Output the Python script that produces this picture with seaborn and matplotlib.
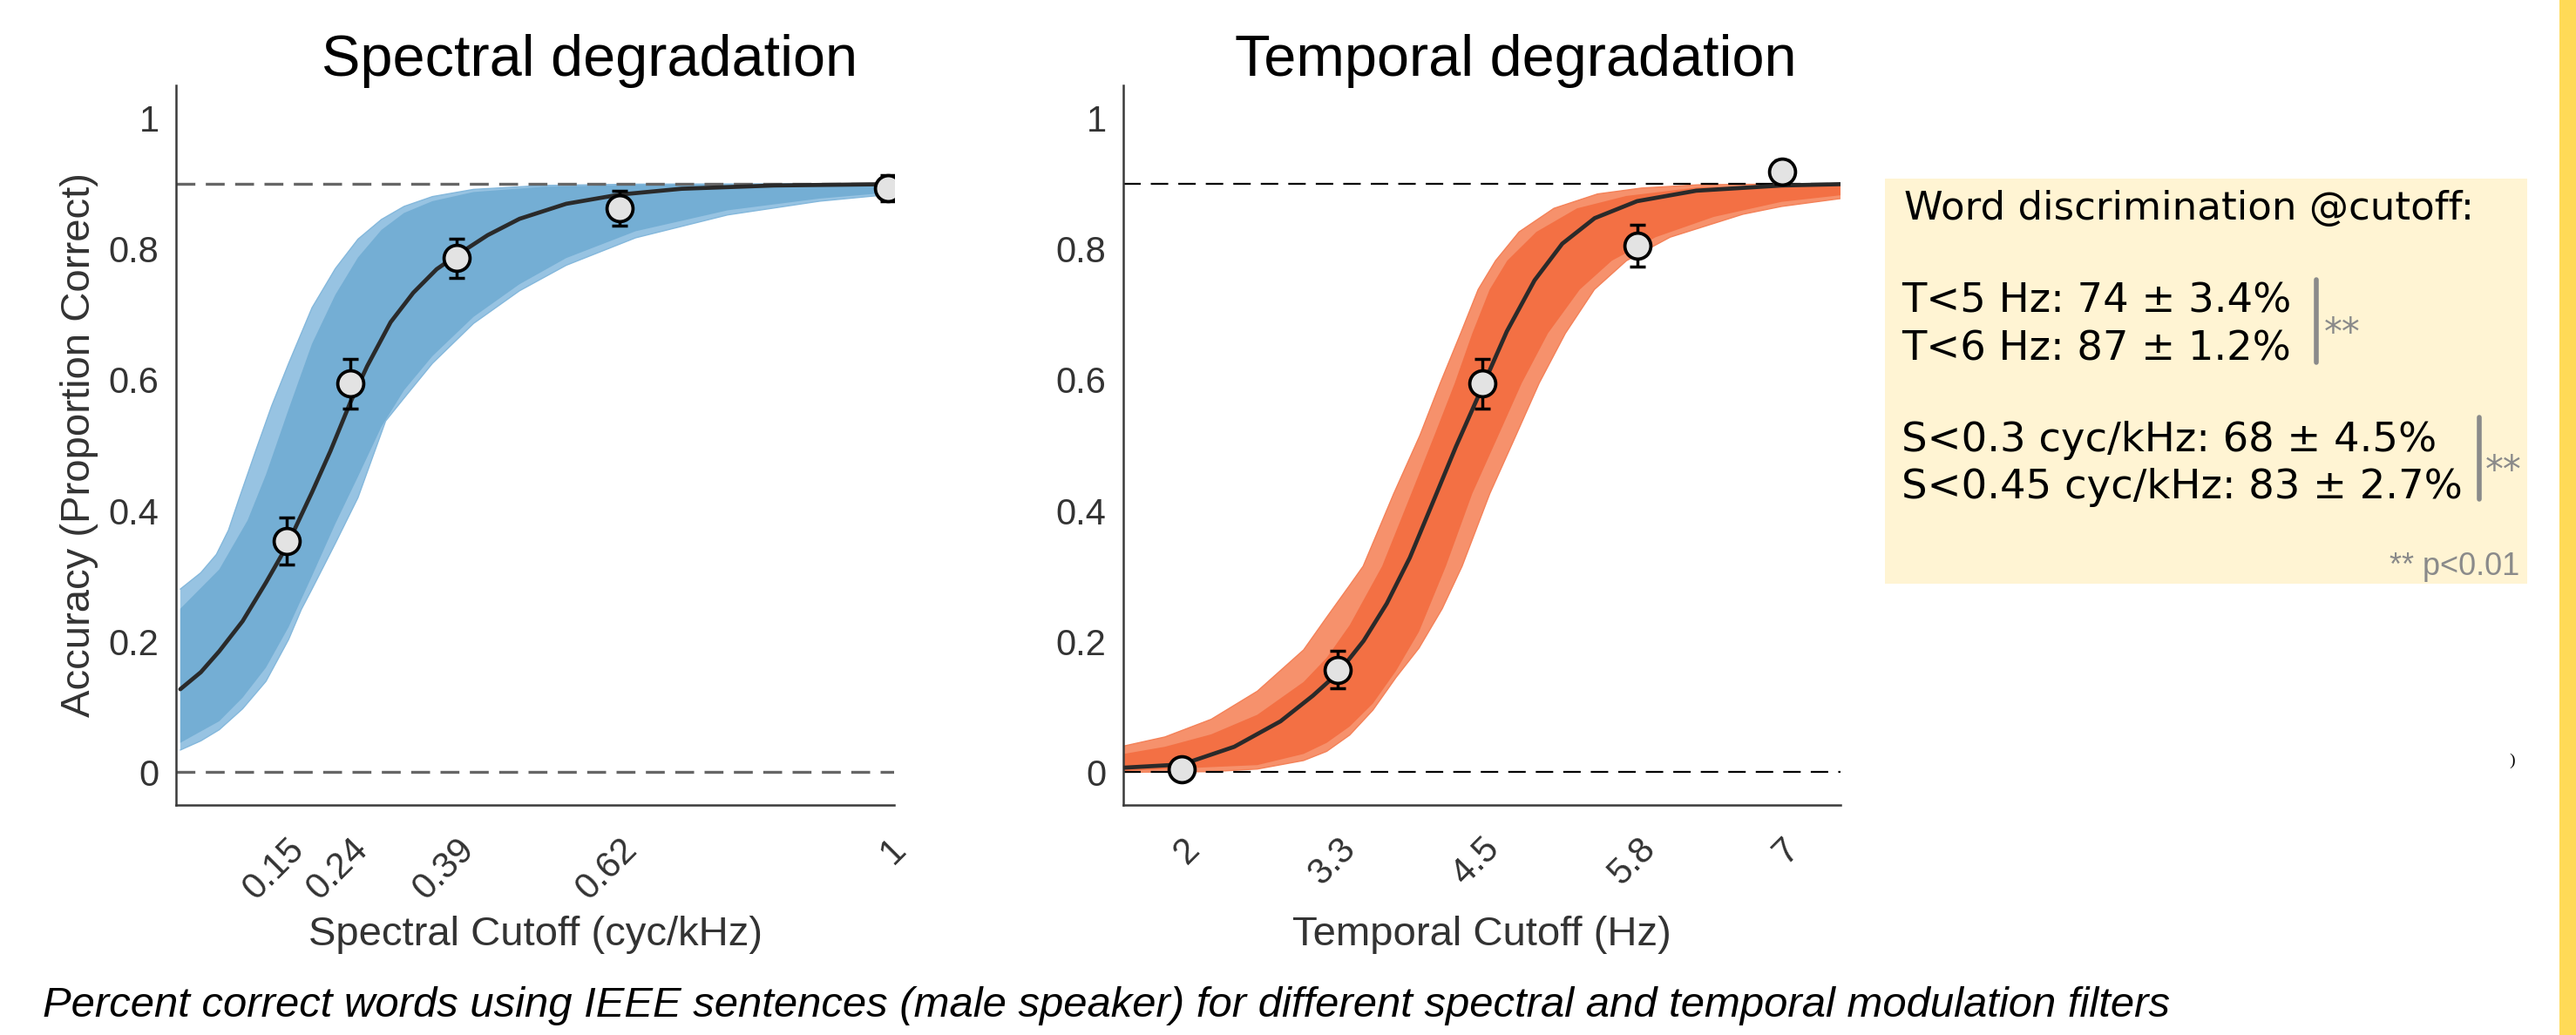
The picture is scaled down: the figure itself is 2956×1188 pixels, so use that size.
import matplotlib
matplotlib.use("Agg")
import matplotlib.pyplot as plt
from matplotlib.patches import Rectangle
from matplotlib.lines import Line2D
import numpy as np
import pandas as pd
import seaborn as sns

# ---------------- data ----------------
# Spectral degradation panel
spec_x = [0.15, 0.24, 0.39, 0.62, 1.0]
spec_y = [0.354, 0.594, 0.786, 0.862, 0.893]
spec_err = [0.036, 0.038, 0.030, 0.027, 0.020]
spec_ticks = [0.15, 0.24, 0.39, 0.62, 1.0]
spec_ticklabels = ["0.15", "0.24", "0.39", "0.62", "1"]

spec_fit_x = [0.0, 0.029, 0.055, 0.088, 0.121, 0.15, 0.186, 0.212, 0.24, 0.264,
              0.297, 0.329, 0.362, 0.39, 0.434, 0.479, 0.545, 0.62, 0.708, 0.838, 1.0]
spec_fit_y = [0.127, 0.153, 0.185, 0.231, 0.290, 0.345, 0.428, 0.491, 0.565, 0.621,
              0.688, 0.733, 0.769, 0.790, 0.821, 0.846, 0.869, 0.883, 0.892, 0.897, 0.899]

spec_outer_up_x = [0.0, 0.029, 0.051, 0.068, 0.082, 0.107, 0.129, 0.153, 0.186, 0.219,
                   0.251, 0.284, 0.316, 0.356, 0.414, 0.512, 0.643, 1.0]
spec_outer_up_y = [0.280, 0.305, 0.333, 0.370, 0.415, 0.493, 0.560, 0.625, 0.710, 0.770,
                   0.815, 0.845, 0.865, 0.880, 0.891, 0.897, 0.899, 0.900]
spec_inner_up_x = [0.0, 0.055, 0.095, 0.121, 0.153, 0.186, 0.219, 0.251, 0.284, 0.316,
                   0.356, 0.414, 0.512, 0.643, 1.0]
spec_inner_up_y = [0.250, 0.310, 0.385, 0.455, 0.555, 0.655, 0.730, 0.787, 0.829, 0.855,
                   0.873, 0.887, 0.895, 0.898, 0.899]
spec_outer_lo_x = [0.0, 0.029, 0.055, 0.088, 0.121, 0.153, 0.171, 0.186, 0.219, 0.251,
                   0.290, 0.316, 0.356, 0.414, 0.479, 0.545, 0.643, 0.773, 0.903, 1.0]
spec_outer_lo_y = [0.034, 0.048, 0.065, 0.097, 0.139, 0.203, 0.249, 0.280, 0.350, 0.420,
                   0.537, 0.572, 0.625, 0.686, 0.736, 0.775, 0.817, 0.852, 0.873, 0.883]
spec_inner_lo_x = [0.0, 0.055, 0.088, 0.121, 0.153, 0.186, 0.219, 0.251, 0.284, 0.316,
                   0.356, 0.414, 0.479, 0.545, 0.643, 0.773, 0.903, 1.0]
spec_inner_lo_y = [0.045, 0.078, 0.114, 0.160, 0.222, 0.300, 0.380, 0.452, 0.528, 0.584,
                   0.636, 0.696, 0.746, 0.786, 0.827, 0.859, 0.877, 0.886]

# Temporal degradation panel
temp_x = [2.0, 3.3, 4.5, 5.8, 7.0]
temp_y = [0.005, 0.157, 0.594, 0.805, 0.918]
temp_err = [0.005, 0.029, 0.038, 0.032, 0.018]
temp_ticks = [2.0, 3.3, 4.5, 5.8, 7.0]
temp_ticklabels = ["2", "3.3", "4.5", "5.8", "7"]

temp_fit_x = [1.511, 2.0, 2.435, 2.821, 3.09, 3.302, 3.514, 3.707, 3.899, 4.092,
              4.284, 4.504, 4.708, 4.939, 5.17, 5.44, 5.794, 6.287, 7.0, 7.49]
temp_fit_y = [0.007, 0.012, 0.039, 0.078, 0.117, 0.152, 0.201, 0.258, 0.328, 0.413,
              0.498, 0.589, 0.674, 0.752, 0.808, 0.847, 0.873, 0.889, 0.897, 0.899]

temp_outer_up_x = [1.511, 1.857, 2.243, 2.628, 3.013, 3.206, 3.398, 3.51, 3.765, 3.983,
                   4.153, 4.323, 4.469, 4.614, 4.81, 5.1, 5.464, 5.83, 6.3, 7.49]
temp_outer_up_y = [0.040, 0.054, 0.081, 0.124, 0.187, 0.237, 0.286, 0.315, 0.426, 0.515,
                   0.595, 0.671, 0.738, 0.782, 0.826, 0.862, 0.884, 0.893, 0.898, 0.900]
temp_inner_up_x = [1.511, 1.857, 2.243, 2.628, 3.013, 3.206, 3.398, 3.668, 3.911, 4.104,
                   4.274, 4.42, 4.565, 4.711, 4.954, 5.293, 5.705, 6.3, 7.49]
temp_inner_up_y = [0.028, 0.039, 0.058, 0.088, 0.138, 0.175, 0.225, 0.315, 0.426, 0.515,
                   0.595, 0.671, 0.738, 0.782, 0.826, 0.862, 0.881, 0.894, 0.899]
temp_outer_lo_x = [1.511, 2.243, 2.628, 3.013, 3.206, 3.398, 3.591, 3.784, 3.976, 4.169,
                   4.335, 4.566, 4.784, 4.978, 5.196, 5.438, 5.705, 6.07, 6.676, 7.0, 7.49]
temp_outer_lo_y = [0.000, 0.001, 0.005, 0.018, 0.032, 0.057, 0.095, 0.145, 0.190, 0.250,
                   0.315, 0.426, 0.515, 0.595, 0.671, 0.738, 0.782, 0.818, 0.853, 0.865, 0.877]
temp_inner_lo_x = [1.511, 2.628, 3.013, 3.206, 3.398, 3.591, 3.784, 3.976, 4.2, 4.42,
                   4.638, 4.833, 5.051, 5.317, 5.584, 5.95, 6.434, 7.0, 7.49]
temp_inner_lo_y = [0.002, 0.011, 0.028, 0.045, 0.070, 0.105, 0.155, 0.215, 0.315, 0.426,
                   0.515, 0.595, 0.671, 0.738, 0.782, 0.818, 0.849, 0.872, 0.882]

y_ticks = [0, 0.2, 0.4, 0.6, 0.8, 1]
y_ticklabels = ["0", "0.2", "0.4", "0.6", "0.8", "1"]
ref_levels = [0.0, 0.9]

titles = ["Spectral degradation", "Temporal degradation"]
xlabels = ["Spectral Cutoff (cyc/kHz)", "Temporal Cutoff (Hz)"]
ylabel = "Accuracy (Proportion Correct)"
caption = ("Percent correct words using IEEE sentences (male speaker) for different "
           "spectral and temporal modulation filters")
box_title = "Word discrimination @cutoff:"
box_lines_t = ["T<5 Hz: 74 \u00b1 3.4%", "T<6 Hz: 87 \u00b1 1.2%"]
box_lines_s = ["S<0.3 cyc/kHz: 68 \u00b1 4.5%", "S<0.45 cyc/kHz: 83 \u00b1 2.7%"]
sig_mark = "**"
sig_note = "** p<0.01"

# ---------------- style ----------------
sns.set_style("white")
plt.rcParams["font.family"] = ["Liberation Sans", "DejaVu Sans"]

W, H = 2956, 1188
fig = plt.figure(figsize=(W / 100, H / 100), dpi=100)


def fx(px):
    return px / W


def fy(py):
    return 1 - py / H


ax_l = fig.add_axes([fx(202), fy(924), fx(1026) - fx(202), fy(98) - fy(924)])
ax_r = fig.add_axes([fx(1289), fy(924), fx(2112) - fx(1289), fy(98) - fy(924)])

TXT = "#333333"
SPINE = "#3a3a3a"


def band(ax, ux, uy, lx, ly, color, edge):
    px = list(ux) + list(lx)[::-1]
    py = list(uy) + list(ly)[::-1]
    ax.fill(px, py, color=color, lw=0, zorder=1)
    if edge is not None:
        ax.plot(ux, uy, color=edge, lw=1.0, zorder=1.2)
        ax.plot(lx, ly, color=edge, lw=1.0, zorder=1.2)


def panel(ax, px, py, perr, fit_x, fit_y, bands, ticks, ticklabels, xlim,
          xlabel, dash_color, dash_lw, dashes):
    for (ux, uy, lx, ly, col, edge) in bands:
        band(ax, ux, uy, lx, ly, col, edge)
    for lev in ref_levels:
        ax.axhline(lev, color=dash_color, linewidth=dash_lw, dashes=dashes, zorder=2)
    fit_df = pd.DataFrame({"x": fit_x, "y": fit_y})
    sns.lineplot(data=fit_df, x="x", y="y", ax=ax, color="#2a2a2a", linewidth=3.4,
                 sort=False, estimator=None, zorder=3)
    ax.errorbar(px, py, yerr=perr, fmt="none", ecolor="black", elinewidth=2.5,
                capsize=6.5, capthick=2.5, zorder=4)
    pts = pd.DataFrame({"x": px, "y": py})
    sns.scatterplot(data=pts, x="x", y="y", ax=ax, s=460, color="#e3e3e3",
                    edgecolor="black", linewidth=2.7, zorder=5)
    ax.set_xlim(*xlim)
    ax.set_ylim(-0.05, 1.05)
    ax.set_yticks(y_ticks)
    ax.set_yticklabels(y_ticklabels)
    ax.set_xticks(ticks)
    ax.set_xticklabels(ticklabels, rotation=45, ha="right", va="top",
                       rotation_mode="anchor")
    ax.tick_params(axis="both", direction="in", length=6, width=1.6,
                   colors=SPINE, labelcolor=TXT, labelsize=30, pad=14)
    ax.tick_params(axis="x", pad=22)
    for s in ["top", "right"]:
        ax.spines[s].set_visible(False)
    for s in ["left", "bottom"]:
        ax.spines[s].set_color(SPINE)
        ax.spines[s].set_linewidth(1.8)
    ax.set_xlabel(xlabel, fontsize=34, color=TXT)
    ax.xaxis.set_label_coords(0.5, -0.154)


panel(ax_l, spec_x, spec_y, spec_err, spec_fit_x, spec_fit_y,
      [(spec_outer_up_x, spec_outer_up_y, spec_outer_lo_x, spec_outer_lo_y, "#97c3e2", "#84b8dc"),
       (spec_inner_up_x, spec_inner_up_y, spec_inner_lo_x, spec_inner_lo_y, "#74aed4", None)],
      spec_ticks, spec_ticklabels, (-0.006, 1.008), xlabels[0],
      "#666666", 2.4, (6.5, 3.6))
panel(ax_r, temp_x, temp_y, temp_err, temp_fit_x, temp_fit_y,
      [(temp_outer_up_x, temp_outer_up_y, temp_outer_lo_x, temp_outer_lo_y, "#f6916c", "#f48158"),
       (temp_inner_up_x, temp_inner_up_y, temp_inner_lo_x, temp_inner_lo_y, "#f37044", None)],
      temp_ticks, temp_ticklabels, (1.51, 7.49), xlabels[1],
      "black", 1.6, (9, 5.2))

ax_l.set_ylabel(ylabel, fontsize=34, color=TXT)
ax_l.yaxis.set_label_coords(-0.108, 0.5)
ax_r.set_ylabel("")

# titles
fig.text(fx(677), fy(87), titles[0], fontsize=48, ha="center", va="baseline", color="black")
fig.text(fx(1739), fy(87), titles[1], fontsize=48, ha="center", va="baseline", color="black")

# caption
fig.text(fx(49), fy(1167), caption, fontsize=35.3, style="italic", ha="left",
         va="baseline", color="black")

# text box
fig.patches.append(Rectangle((fx(2163), fy(670)), fx(2900) - fx(2163), fy(205) - fy(670),
                             transform=fig.transFigure, facecolor="#fff4d3",
                             edgecolor="none", zorder=0))
fig.patches.append(Rectangle((fx(2937), 0), 1 - fx(2937), 1, transform=fig.transFigure,
                             facecolor="#ffda57", edgecolor="none", zorder=0))
BOX_FONT = dict(family=["DejaVu Sans"], color="black", va="baseline", ha="left")
fig.text(fx(2185), fy(252), box_title, fontsize=32.5, **BOX_FONT)
fig.text(fx(2182), fy(359), box_lines_t[0], fontsize=33.5, **BOX_FONT)
fig.text(fx(2182), fy(413), box_lines_t[1], fontsize=33.5, **BOX_FONT)
fig.text(fx(2182), fy(518), box_lines_s[0], fontsize=33.5, **BOX_FONT)
fig.text(fx(2182), fy(572), box_lines_s[1], fontsize=33.5, **BOX_FONT)

GRAY = "#8a8a8a"
fig.lines.append(Line2D([fx(2658), fx(2658)], [fy(321), fy(416)], transform=fig.transFigure,
                        color=GRAY, lw=4))
fig.lines.append(Line2D([fx(2845), fx(2845)], [fy(479), fy(573)], transform=fig.transFigure,
                        color=GRAY, lw=4))
fig.text(fx(2667), fy(395), sig_mark, family=["DejaVu Sans"], fontsize=30, color=GRAY,
         va="baseline", ha="left")
fig.text(fx(2852), fy(553), sig_mark, family=["DejaVu Sans"], fontsize=30, color=GRAY,
         va="baseline", ha="left")
fig.text(fx(2891), fy(660), sig_note, fontsize=26, color=GRAY, va="baseline", ha="right")
fig.text(fx(2883), fy(878), ")", family=["Liberation Serif"], fontsize=14, color="black",
         va="baseline", ha="center")

fig.savefig("out.png", dpi=100, facecolor="white")
